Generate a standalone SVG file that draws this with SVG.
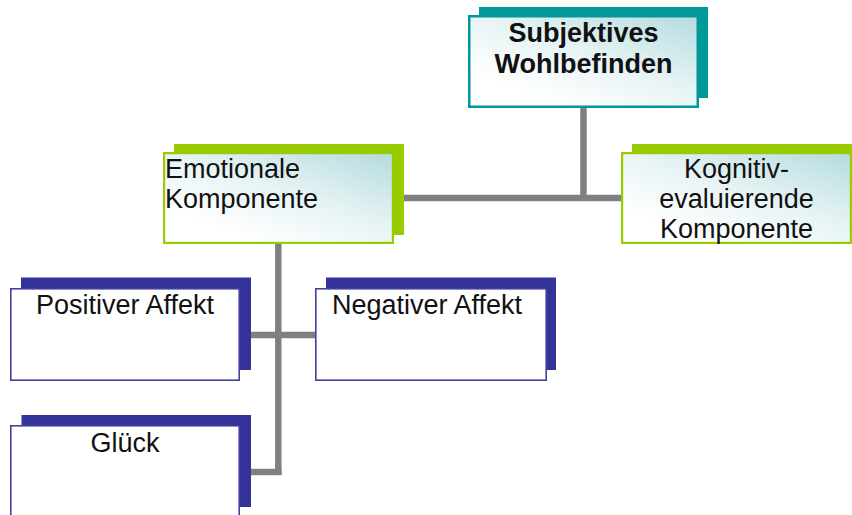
<svg xmlns="http://www.w3.org/2000/svg" width="852" height="515" viewBox="0 0 852 515">
  <defs>
    <linearGradient id="gfill" x1="1" y1="0" x2="0.25" y2="0.85">
      <stop offset="0" stop-color="#b4dbdf"/>
      <stop offset="0.55" stop-color="#e6f3f4"/>
      <stop offset="1" stop-color="#ffffff"/>
    </linearGradient>
  </defs>
  <style>
    .txt { font-family: "Liberation Sans", Arial, sans-serif; font-size: 27px; fill: #111; }
    .bold { font-weight: bold; }
    .mid { text-anchor: middle; }
    .sh-teal { fill: #009999; }
    .sh-green { fill: #99cc00; }
    .sh-blue { fill: #333399; }
    .fr-teal { fill: url(#gfill); stroke: #009999; stroke-width: 2.5; }
    .fr-green { fill: url(#gfill); stroke: #99cc00; stroke-width: 2.2; }
    .fr-blue { fill: #ffffff; stroke: #4040a0; stroke-width: 1.6; }
    .conn { fill: none; stroke: #808080; stroke-width: 6.5; stroke-linejoin: miter; stroke-linecap: butt; }
  </style>
  <rect width="852" height="515" fill="#ffffff"/>

  <g id="connectors">
    <path class="conn" d="M583.5,107 V198"/>
    <path class="conn" d="M404,198 H621"/>
    <path class="conn" d="M278.3,244 V475"/>
    <path class="conn" d="M251,335 H316"/>
    <path class="conn" d="M251,472 H281.5"/>
  </g>

  <g id="node-subjektives">
    <rect class="sh-teal" x="479" y="7" width="229" height="91"/>
    <rect class="fr-teal" x="469.25" y="16.25" width="228.5" height="90.5"/>
    <text class="txt bold mid" x="583.5" y="42">Subjektives</text>
    <text class="txt bold mid" x="583.5" y="73">Wohlbefinden</text>
  </g>

  <g id="node-emotionale">
    <rect class="sh-green" x="174" y="144" width="230" height="91"/>
    <rect class="fr-green" x="164.1" y="153.1" width="228.8" height="89.8"/>
    <text class="txt" x="165" y="178">Emotionale</text>
    <text class="txt" x="165" y="208">Komponente</text>
  </g>

  <g id="node-kognitiv">
    <rect class="sh-green" x="632" y="144" width="230" height="91"/>
    <rect class="fr-green" x="622.1" y="153.1" width="228.8" height="89.8"/>
    <text class="txt mid" x="736.5" y="178">Kognitiv-</text>
    <text class="txt mid" x="736.5" y="208">evaluierende</text>
    <text class="txt mid" x="736.5" y="238">Komponente</text>
  </g>

  <g id="node-positiver">
    <rect class="sh-blue" x="21" y="277.5" width="230" height="92.5"/>
    <rect class="fr-blue" x="10.8" y="288.8" width="228.4" height="91.4"/>
    <text class="txt mid" x="125" y="314">Positiver Affekt</text>
  </g>

  <g id="node-negativer">
    <rect class="sh-blue" x="326" y="277.5" width="230" height="92.5"/>
    <rect class="fr-blue" x="315.8" y="288.8" width="230.4" height="91.4"/>
    <text class="txt mid" x="427" y="314">Negativer Affekt</text>
  </g>

  <g id="node-glueck">
    <rect class="sh-blue" x="21.5" y="415" width="229.5" height="92"/>
    <rect class="fr-blue" x="10.8" y="425.8" width="228.4" height="91.4"/>
    <text class="txt mid" x="125" y="452">Glück</text>
  </g>
</svg>
